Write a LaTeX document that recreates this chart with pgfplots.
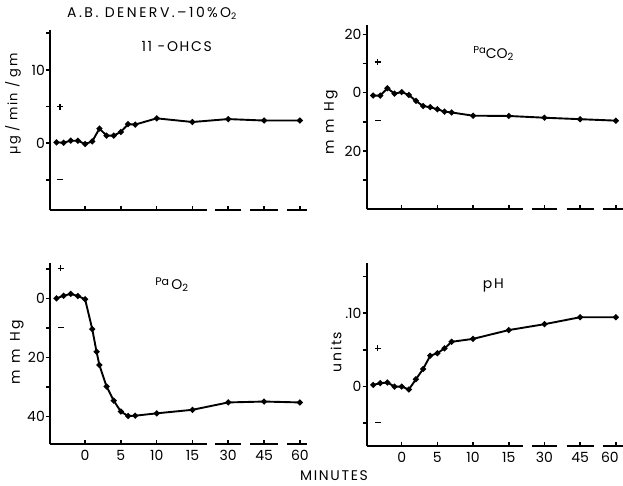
\documentclass[border=0pt]{standalone}
\usepackage{pgfplots}
\pgfplotsset{compat=1.18}
\usepackage{fontspec}
\setmainfont{Poppins}
\newfontfamily\spaced[LetterSpace=12]{Poppins}
\newfontfamily\titlefont[LetterSpace=18]{Poppins}
\newfontfamily\wide[LetterSpace=22]{Poppins}
\newfontfamily\midspaced[LetterSpace=10]{Poppins}

\pgfplotsset{
  panel/.style={
    scale only axis, clip=false,
    xmin=-4.9, xmax=31,
    axis y line*=left, axis x line*=bottom,
    x axis line style={draw=none},
    y axis line style={line width=1.9pt},
    xtick={0,5,10,15,20,25,30},
    tick align=outside,
    major tick length=4pt,
    every tick/.style={black, line width=1.6pt},
    every major x tick/.append style={yshift=4pt},
    tick label style={font=\fontsize{14}{14}\selectfont},
    /pgf/number format/assume math mode=true,
    yticklabel style={inner sep=1pt},
    xticklabel style={inner sep=1pt, yshift=-1pt},
  },
  dat/.style={black, line width=1.9pt, mark=*, mark size=1.9pt},
  pm/.style={only marks, black, mark size=3pt, line width=1.1pt},
}
\newcommand\xsegs[1]{%
  \draw[line width=1.9pt] (axis cs:-4.9,#1) -- (axis cs:17,#1);
  \draw[line width=1.9pt] (axis cs:18.2,#1) -- (axis cs:21.8,#1);
  \draw[line width=1.9pt] (axis cs:23.1,#1) -- (axis cs:27,#1);
  \draw[line width=1.9pt] (axis cs:28.2,#1) -- (axis cs:31,#1);
}

\begin{document}
\begin{tikzpicture}
\useasboundingbox[fill=white] (0pt,0pt) rectangle (623pt,486pt);

% 11-OHCS
\begin{axis}[panel, at={(50pt,276pt)}, anchor=south west, width=257pt, height=180pt,
  ymin=-9.1, ymax=15.45, ytick={-5,0,5,10,15}, yticklabels={,0,,10,}, xticklabels={,,,,,,}]
\addplot[dat] coordinates {(-4,0.12) (-3,0.08) (-2,0.35) (-1,0.35) (0,-0.1) (1,0.25) (2,2.0) (3,1.05) (4,1.05) (5,1.55) (6,2.6) (7,2.55) (10,3.4) (15,2.9) (20,3.3) (25,3.1) (30,3.1)};
\addplot[pm, mark=+] coordinates {(-3.5,5)};
\addplot[pm, mark=-] coordinates {(-3.5,-5)};
\xsegs{-9.1}
\end{axis}

% PaCO2
\begin{axis}[panel, at={(366.7pt,276.7pt)}, anchor=south west, width=256.3pt, height=184.3pt,
  ymin=-40, ymax=23.2, ytick={-30,-20,-10,0,10,20}, yticklabels={,20,,0,,20}, xticklabels={,,,,,,}]
\addplot[dat] coordinates {(-4,-1.0) (-3,-1.0) (-2,1.5) (-1,-0.35) (0,0.2) (1,-0.8) (2,-2.85) (3,-4.6) (4,-5.0) (5,-5.7) (6,-6.5) (7,-6.8) (10,-7.9) (15,-8.0) (20,-8.6) (25,-9.1) (30,-9.6)};
\addplot[pm, mark=+] coordinates {(-3.35,10.5)};
\addplot[pm, mark=-] coordinates {(-3.35,-9.5)};
\xsegs{-40}
\end{axis}

% PaO2
\begin{axis}[panel, at={(50pt,42pt)}, anchor=south west, width=257pt, height=180.7pt,
  ymin=-49.3, ymax=12, ytick={-40,-30,-20,-10,0,10}, yticklabels={40,,20,,0,}, xticklabels={0,5,10,15,30,45,60}]
\addplot[dat] coordinates {(-4,0.1) (-3,1.0) (-2,1.6) (-1,0.9) (0,-0.2) (1,-10.3) (1.6,-18) (2,-22.5) (3,-29.8) (4,-34.6) (5,-38.3) (6,-39.8) (7,-39.7) (10,-38.9) (15,-37.7) (20,-35.2) (25,-34.9) (30,-35.2)};
\addplot[pm, mark=+] coordinates {(-3.4,10.3)};
\addplot[pm, mark=-] coordinates {(-3.4,-9.7)};
\xsegs{-49.3}
\end{axis}

% pH
\begin{axis}[panel, at={(366.7pt,40pt)}, anchor=south west, width=256.3pt, height=182.7pt,
  ymin=-0.081, ymax=0.168, ytick={-0.05,0,0.05,0.1,0.15}, yticklabels={,0,,.10,}, xticklabels={0,5,10,15,30,45,\makebox[0pt]{\hspace{-12pt}60}}]
\addplot[dat] coordinates {(-4,0.0023) (-3,0.0046) (-2,0.0055) (-1,0.0) (0,0.0) (1,-0.004) (2,0.010) (3,0.024) (4,0.042) (5,0.0455) (6,0.052) (7,0.061) (10,0.065) (15,0.077) (20,0.085) (25,0.0945) (30,0.0945)};
\addplot[pm, mark=+] coordinates {(-3.35,0.052)};
\addplot[pm, mark=-] coordinates {(-3.35,-0.049)};
\xsegs{-0.081}
\end{axis}

% texts
\node[font=\titlefont\fontsize{14}{14}\selectfont] at (151.7pt,472.7pt) {A.B. DENERV.\,–\,10\,\%\,O\raisebox{-2pt}{\fontsize{9}{9}\selectfont 2}};
\node[font=\spaced\fontsize{14}{14}\selectfont] at (176.7pt,439.3pt) {11 -OHCS};
\node[font=\fontsize{14}{14}\selectfont] at (493.3pt,432.7pt) {\raisebox{5pt}{\fontsize{10}{10}\selectfont Pa}CO\raisebox{-2pt}{\fontsize{10}{10}\selectfont 2}};
\node[font=\fontsize{14}{14}\selectfont] at (171.7pt,201pt) {\raisebox{4pt}{\fontsize{11}{11}\selectfont Pa}\,O\raisebox{-2pt}{\fontsize{10}{10}\selectfont 2}};
\node[font=\spaced\fontsize{14}{14}\selectfont] at (493.3pt,201pt) {pH};
\node[font=\spaced\fontsize{14}{14}\selectfont] at (334pt,10pt) {MINUTES};
\node[font=\midspaced\fontsize{13}{13}\selectfont, rotate=90] at (13pt,382pt) {µg / min / gm};
\node[font=\wide\fontsize{14}{14}\selectfont, rotate=90] at (331pt,364pt) {m m Hg};
\node[font=\wide\fontsize{14}{14}\selectfont, rotate=90] at (17pt,134pt) {m m Hg};
\node[font=\spaced\fontsize{14}{14}\selectfont, rotate=90] at (336pt,134pt) {units};
\end{tikzpicture}
\end{document}
